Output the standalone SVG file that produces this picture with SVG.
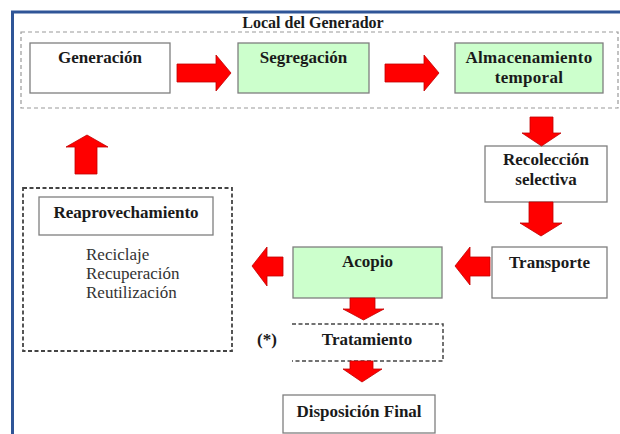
<svg xmlns="http://www.w3.org/2000/svg" width="620" height="434" viewBox="0 0 620 434">
  <style>
    .box { stroke: #7f7f7f; stroke-width: 1.3; }
    .plain { fill: #ffffff; }
    .green { fill: #ccffcc; }
    .lbl { font-family: 'Liberation Serif', serif; font-weight: bold; font-size: 17px; fill: #1a1a1a; text-anchor: middle; }
    .item { font-family: 'Liberation Serif', serif; font-size: 17px; fill: #333333; }
    .arrow { fill: #ff0000; stroke: #c00000; stroke-width: 0.8; stroke-linejoin: miter; }
    .dashLight { fill: none; stroke: #9a9a9a; stroke-width: 1.2; stroke-dasharray: 4 3; }
    .dashDark { fill: none; stroke: #444444; stroke-width: 1.8; stroke-dasharray: 4 2.5; }
  </style>

  <rect x="0" y="0" width="620" height="434" fill="#ffffff"/>

  <!-- page frame -->
  <g id="frame" fill="none" stroke="#2f5597" stroke-width="3">
    <path d="M12.5,434 V12 H620"/>
  </g>

  <!-- producer site grouping -->
  <g id="local-generador" font-family="Liberation Serif, serif">
    <rect class="dashLight" x="21" y="32" width="597" height="76"/>
    <text class="lbl" x="313" y="28" style="font-size:16px">Local del Generador</text>
  </g>

  <g id="generacion" font-family="Liberation Serif, serif">
    <rect class="box plain" x="30" y="43" width="140" height="50"/>
    <text class="lbl" x="100" y="63">Generación</text>
  </g>

  <g id="segregacion" font-family="Liberation Serif, serif">
    <rect class="box green" x="238" y="43" width="131" height="50"/>
    <text class="lbl" x="303.5" y="63">Segregación</text>
  </g>

  <g id="almacenamiento" font-family="Liberation Serif, serif">
    <rect class="box green" x="455" y="43" width="148" height="50"/>
    <text class="lbl" x="529" y="63" letter-spacing="0.3">Almacenamiento</text>
    <text class="lbl" x="529" y="83" letter-spacing="0.3">temporal</text>
  </g>

  <g id="recoleccion" font-family="Liberation Serif, serif">
    <rect class="box plain" x="485" y="146" width="122" height="56"/>
    <text class="lbl" x="546" y="165">Recolección</text>
    <text class="lbl" x="546" y="185">selectiva</text>
  </g>

  <g id="transporte" font-family="Liberation Serif, serif">
    <rect class="box plain" x="492" y="247" width="115" height="51"/>
    <text class="lbl" x="549.5" y="268">Transporte</text>
  </g>

  <g id="acopio" font-family="Liberation Serif, serif">
    <rect class="box green" x="293" y="247" width="149" height="51"/>
    <text class="lbl" x="367.5" y="267">Acopio</text>
  </g>

  <g id="tratamiento" font-family="Liberation Serif, serif">
    <path class="dashDark" d="M292,324 H443 V361 H292" style="stroke-width:1.5"/>
    <text class="lbl" x="267" y="345">(*)</text>
    <text class="lbl" x="367" y="345">Tratamiento</text>
  </g>

  <g id="disposicion-final" font-family="Liberation Serif, serif">
    <rect class="box plain" x="283" y="395" width="152" height="38"/>
    <text class="lbl" x="359" y="417">Disposición Final</text>
  </g>

  <g id="reaprovechamiento" font-family="Liberation Serif, serif">
    <rect class="dashDark" x="23" y="188" width="209" height="163"/>
    <rect class="box plain" x="39" y="197" width="174" height="38"/>
    <text class="lbl" x="126" y="218">Reaprovechamiento</text>
    <text class="item" x="86" y="260">Reciclaje</text>
    <text class="item" x="86" y="279">Recuperación</text>
    <text class="item" x="86" y="298">Reutilización</text>
  </g>

  <!-- block arrows between stages -->
  <g id="connectors">
    <polygon class="arrow" points="177,64 216,64 216,55 231,73 216,91 216,82 177,82"/>
    <polygon class="arrow" points="385,64 424,64 424,55 439,73 424,91 424,82 385,82"/>
    <polygon class="arrow" points="530,117 553,117 553,133 561,133 541.5,146 522,133 530,133"/>
    <polygon class="arrow" points="529,202 553,202 553,223 562,223 541,236 520,223 529,223"/>
    <polygon class="arrow" points="490,257 470,257 470,247 455,266 470,285 470,276 490,276"/>
    <polygon class="arrow" points="283,257 267,257 267,247 252,266 267,286 267,276 283,276"/>
    <polygon class="arrow" points="350,298 375,298 375,309 384,309 363.5,320 343,309 350,309"/>
    <polygon class="arrow" points="350,361 373,361 373,369 382,369 362,382 343,369 350,369"/>
    <polygon class="arrow" points="66,147 87,135 108,147 97,147 97,174 75,174 75,147"/>
  </g>
</svg>
